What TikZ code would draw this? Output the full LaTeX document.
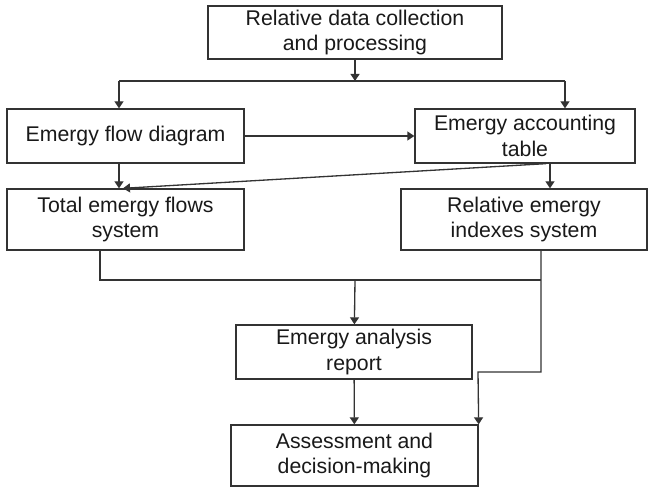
\documentclass[tikz,border=0pt]{standalone}
\usepackage{fontspec}
\setmainfont{Liberation Sans}
\usetikzlibrary{arrows.meta}

\begin{document}
\begin{tikzpicture}[
    % Box and connector styles
    stage/.style={draw=black!80, line width=0.75pt, fill=white, text=black!90, font=\fontsize{12.1}{14.7}\selectfont, align=center, inner sep=0pt},
    flowline/.style={line width=0.75pt, draw=black!80},
    tip/.style={-{Triangle[length=1.4mm,width=1.8mm]}}
]
\useasboundingbox (0,0) rectangle (13,-9.74);

% ---------------------------------------------------------
% 1. BOXES (Nodes)
% ---------------------------------------------------------
\node[stage, minimum width=5.88cm, minimum height=1.06cm] (collect) at (7.10, -0.65) {Relative data collection\\and processing};

% --- Row 1 ---
\node[stage, minimum width=4.74cm, minimum height=1.08cm] (flowdiag) at (2.51, -2.72) {Emergy flow diagram};
\node[stage, minimum width=4.40cm, minimum height=1.08cm] (acctable) at (10.50, -2.72) {Emergy accounting\\table};

% --- Row 2 ---
\node[stage, minimum width=4.74cm, minimum height=1.22cm] (totalsys) at (2.51, -4.39) {Total emergy flows\\system};
\node[stage, minimum width=4.92cm, minimum height=1.22cm] (indexsys) at (10.48, -4.39) {Relative emergy\\indexes system};

% --- Row 3 and 4 ---
\node[stage, minimum width=4.72cm, minimum height=1.08cm] (report) at (7.08, -7.04) {Emergy analysis\\report};
\node[stage, minimum width=4.94cm, minimum height=1.22cm] (assess) at (7.09, -9.11) {Assessment and\\decision-making};

% ---------------------------------------------------------
% 2. CONNECTORS
% ---------------------------------------------------------
\coordinate (split) at (7.10, -1.62);
\coordinate (merge) at (7.10, -5.60);
\coordinate (bypass) at (9.56, -7.44);

% From data collection to both branches
\draw[flowline, tip] (collect) -- (split);
\draw[flowline] ([xshift=-1.3mm]flowdiag.north |- split) -- ([xshift=8mm]acctable.north |- split);
\draw[flowline, tip] ([xshift=-1.3mm]flowdiag.north |- split) -- ([xshift=-1.3mm]flowdiag.north);
\draw[flowline, tip] ([xshift=8mm]acctable.north |- split) -- ([xshift=8mm]acctable.north);

% Row 1
\draw[flowline, tip] (flowdiag) -- (acctable);
\draw[flowline, tip] ([xshift=-1.3mm]flowdiag.south) -- ([xshift=-1.3mm]totalsys.north);
\draw[flowline, tip] ([xshift=4.2mm]acctable.south) -- ([xshift=-0.5mm]totalsys.north);
\draw[flowline, tip] ([xshift=5mm]acctable.south) -- ([xshift=5mm]acctable.south |- indexsys.north);

% Row 2 to report and assessment
\draw[flowline] ([xshift=-5.1mm]totalsys.south) |- ([xshift=3.4mm]indexsys.south |- merge);
\draw[flowline, tip] (merge) -- (report);
\draw[flowline, tip] ([xshift=3.4mm]indexsys.south) |- (bypass) -- (assess.north east);
\draw[flowline, tip] (report) -- (assess);

\end{tikzpicture}
\end{document}
